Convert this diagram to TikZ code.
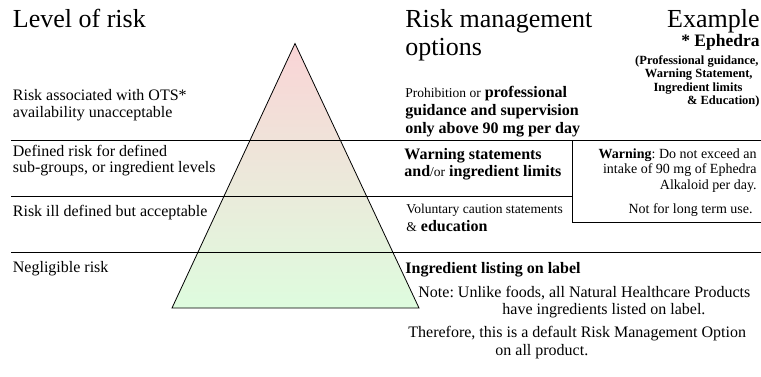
\documentclass[tikz,border=0pt]{standalone}
\usepackage{fontspec}
\setmainfont{Liberation Serif}
\usetikzlibrary{positioning}
\frenchspacing

\definecolor{riskpink}{RGB}{250,212,214}
\definecolor{riskgreen}{RGB}{222,252,222}

\newcommand{\smalltxt}[1]{{\fontsize{13.5}{16}\selectfont #1}}

\tikzset{
    txt/.style={anchor=base west, inner sep=0pt, font=\fontsize{16}{18}\selectfont},
    head/.style={anchor=base west, inner sep=0pt, font=\fontsize{26}{30}\selectfont},
    exbold/.style={anchor=base east, inner sep=0pt, font=\fontsize{17.5}{20}\selectfont\bfseries},
    exsmall/.style={anchor=base east, inner sep=0pt, font=\fontsize{12.5}{14}\selectfont\bfseries},
    warn/.style={anchor=base east, inner sep=0pt, font=\fontsize{14}{16}\selectfont}
}

\begin{document}
\begin{tikzpicture}[x=1pt, y=-1pt, line width=0.8pt]
    \useasboundingbox (0,0) rectangle (761,376);

    % pyramid
    \coordinate (top) at (295,43.5);
    \coordinate (left) at (172,308);
    \coordinate (right) at (419,308);
    \shade[top color=riskpink, bottom color=riskgreen, draw=black] (top) -- (left) -- (right) -- cycle;

    % band borders
    \coordinate (a1) at (11,140.5);
    \coordinate (a2) at (761,140.5);
    \coordinate (b1) at (11,196);
    \coordinate (b2) at (572,196);
    \coordinate (c1) at (11,252.5);
    \coordinate (c2) at (761,252.5);
    \coordinate (box) at (572,222.5);
    \coordinate (boxr) at (761,222.5);
    \draw (a1) -- (a2);
    \draw (b1) -- (b2);
    \draw (c1) -- (c2);
    \draw (b2 |- a1) -- (box) -- (boxr);

    % headings
    \node[head] (level) at (12.5,27) {Level of risk};
    \node[head] (mgmt) at (405,27) {Risk management};
    \node[head] (opts) at (405,55.5) {options};
    \node[head, anchor=base east] (example) at (760,27) {Example};

    \node[exbold] (eph) at (760,46.5) {* Ephedra};
    \node[exsmall] (ex1) at (759,64) {(Professional guidance,};
    \node[exsmall] (ex2) at (753,77) {Warning Statement,};
    \node[exsmall] (ex3) at (743,91) {Ingredient limits};
    \node[exsmall] (ex4) at (760,104) {\& Education)};

    % levels of risk
    \node[txt] (r1a) at (12.5,100.5) {Risk associated with OTS*};
    \node[txt] (r1b) at (12.5,117) {availability unacceptable};
    \node[txt] (r2a) at (12.5,156) {Defined risk for defined};
    \node[txt] (r2b) at (12.5,172.5) {sub-groups, or ingredient levels};
    \node[txt] (r3) at (12.5,216.5) {Risk ill defined but acceptable};
    \node[txt] (r4) at (12.5,272.5) {Negligible risk};

    % options
    \node[txt] (o1a) at (405,97) {\smalltxt{Prohibition or} \textbf{professional}};
    \node[txt] (o1b) at (405,115) {\textbf{guidance and supervision}};
    \node[txt] (o1c) at (405,133) {\textbf{only above 90 mg per day}};
    \node[txt] (o2a) at (404,159) {\textbf{Warning statements}};
    \node[txt] (o2b) at (404,176) {\textbf{and}\smalltxt{/or} \textbf{ingredient limits}};
    \node[txt] (o3a) at (406,213.5) {\smalltxt{Voluntary caution statements}};
    \node[txt] (o3b) at (406,231) {\smalltxt{\&} \textbf{education}};
    \node[txt] (o4) at (405,273) {\textbf{Ingredient listing on label}};
    \node[txt] (n1) at (418,297) {Note: Unlike foods, all Natural Healthcare Products};
    \node[txt] (n2) at (502,314) {have ingredients listed on label.};
    \node[txt] (t1) at (408,337) {Therefore, this is a default Risk Management Option};
    \node[txt] (t2) at (495,355) {on all product.};

    % example box
    \node[warn] (w1) at (757,158) {\textbf{Warning}: Do not exceed an};
    \node[warn] (w2) at (757,173.5) {intake of 90 mg of Ephedra};
    \node[warn] (w3) at (757,189) {Alkaloid per day.};
    \node[warn] (w4) at (753,213) {Not for long term use.};
\end{tikzpicture}
\end{document}
